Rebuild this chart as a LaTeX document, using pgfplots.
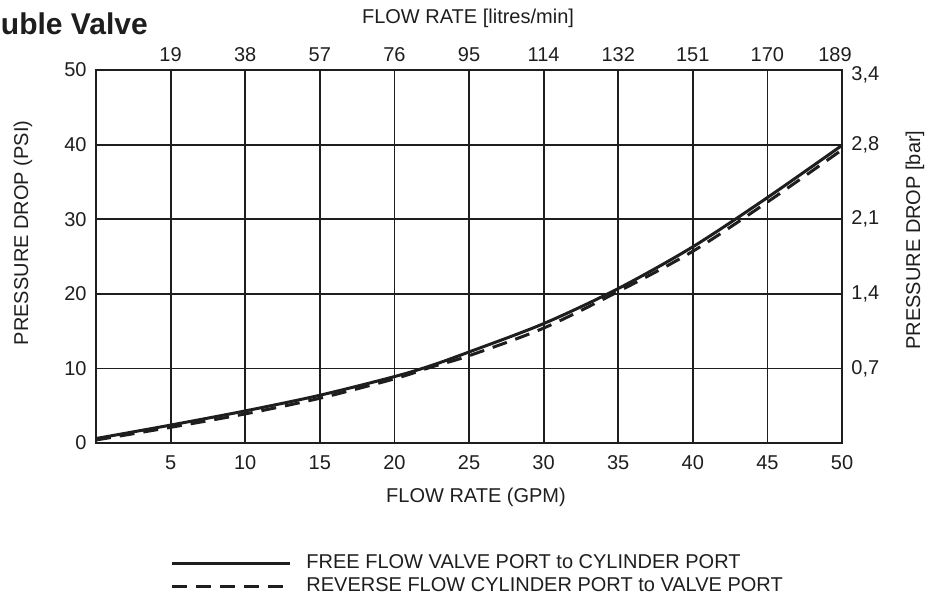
\documentclass[border=0pt]{standalone}
\usepackage{fontspec}
\setmainfont{Liberation Sans}
\usepackage{pgfplots}
\pgfplotsset{compat=1.18}
\definecolor{ink}{HTML}{1E1E1E}
\newcommand{\tf}{\fontsize{10bp}{12bp}\selectfont}
\begin{document}
\begin{tikzpicture}
\useasboundingbox (0,0) rectangle (468bp,300bp);
\node[anchor=base west, inner sep=0pt, font=\fontsize{15bp}{18bp}\selectfont\bfseries, text=ink] at (0.3bp,282.5bp) {uble Valve};
\begin{axis}[
  at={(48bp,78.5bp)}, anchor=south west,
  scale only axis, width=373bp, height=186.5bp,
  xmin=0, xmax=50, ymin=0, ymax=50,
  xtick={5,10,...,50}, ytick={0,10,...,50},
  grid=major, major grid style={ink, line width=0.9bp},
  axis line style={ink, line width=1bp},
  major tick length=0pt,
  /pgf/number format/assume math mode=true,
  tick label style={font=\tf, text=ink, inner sep=0pt},
  xticklabel style={yshift=-6bp},
  yticklabel style={xshift=-4.5bp},
  legend cell align=left,
  legend image code/.code={\draw[#1] (0bp,0bp) -- (59bp,0bp);},
  legend style={at={(0.0992,-0.291)}, anchor=north west, draw=none, fill=none,
    inner sep=0pt, font=\tf, text=ink, row sep=0pt, column sep=6.5bp,
    nodes={inner sep=1bp, text height=7.5bp, text depth=2bp}},
]
\addplot[ink, line width=1.5bp, smooth] coordinates {
  (0,0.6) (5,2.4) (10,4.3) (15,6.4) (20,8.9) (22.5,10.4) (25,12.2) (30,16.0) (35,20.7) (40,26.3) (45,32.9) (50,39.9)};
\addlegendentry{FREE FLOW VALVE PORT to CYLINDER PORT}
\addplot[ink, line width=1.5bp, smooth, dash pattern=on 7.5bp off 4.5bp] coordinates {
  (0,0.4) (5,2.1) (10,3.9) (15,6.0) (20,8.6) (22.5,10.2) (25,11.7) (30,15.4) (35,20.3) (40,25.7) (45,32.3) (50,39.3)};
\addlegendentry{REVERSE FLOW CYLINDER PORT to VALVE PORT}
\end{axis}
\begin{axis}[
  at={(48bp,78.5bp)}, anchor=south west,
  scale only axis, width=373bp, height=186.5bp,
  xmin=0, xmax=50, ymin=0, ymax=50,
  xtick={5,10,...,50},
  xticklabels={19,38,57,76,95,114,132,151,170,{\hspace*{-7bp}189}},
  ytick={10,20,...,50},
  yticklabels={{0,7},{1,4},{2,1},{2,8},{\smash{\raisebox{-5.1bp}{3,4}}}},
  xticklabel pos=upper, yticklabel pos=upper,
  axis line style={ink, line width=1bp},
  major tick length=0pt,
  /pgf/number format/assume math mode=true,
  tick label style={font=\tf, text=ink, inner sep=0pt},
  xticklabel style={yshift=4bp},
  yticklabel style={xshift=4.5bp},
]
\end{axis}
\node[font=\tf, text=ink] at (234bp,291bp) {FLOW RATE [litres/min]};
\node[font=\tf, text=ink] at (238bp,51.5bp) {FLOW RATE (GPM)};
\node[font=\tf, text=ink, rotate=90] at (11.5bp,183.5bp) {PRESSURE DROP (PSI)};
\node[font=\tf, text=ink, rotate=90] at (457.5bp,180bp) {PRESSURE DROP [bar]};
\end{tikzpicture}
\end{document}
